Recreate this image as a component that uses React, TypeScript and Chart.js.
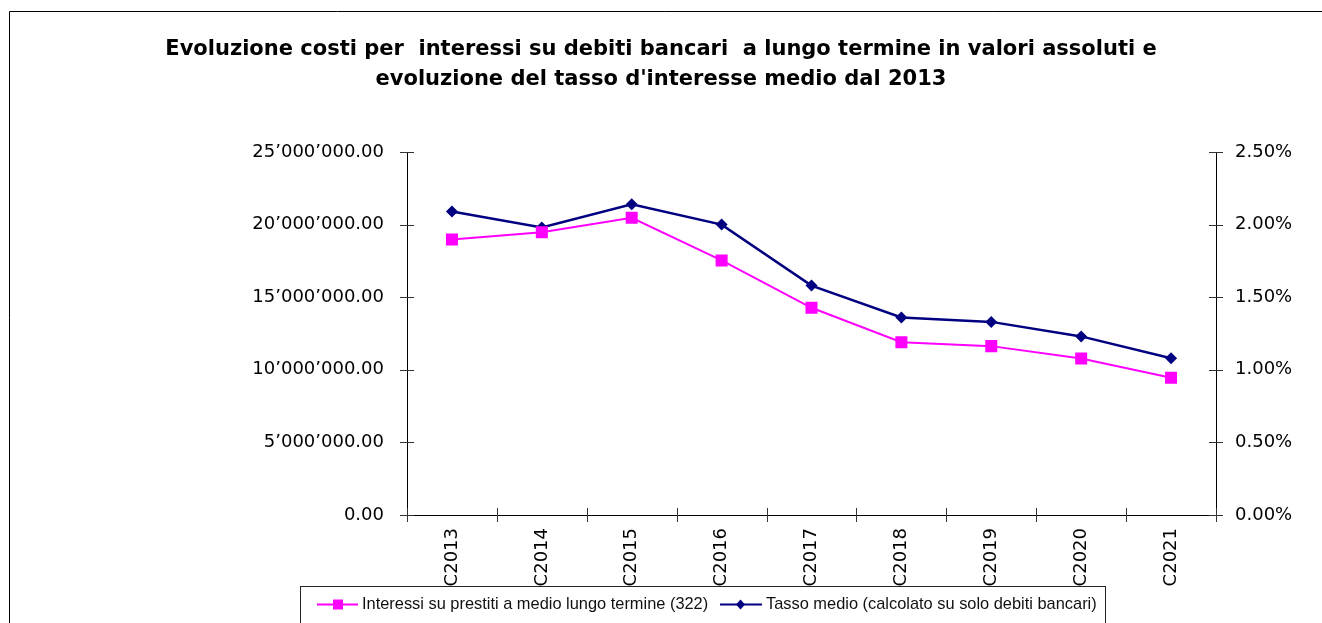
import React, { useEffect, useRef } from "react";
import { Chart, registerables } from "chart.js";

Chart.register(...registerables);

// ---------- DATA ----------
const categories = ["C2013", "C2014", "C2015", "C2016", "C2017", "C2018", "C2019", "C2020", "C2021"];
const interessiValues = [18970000, 19480000, 20470000, 17530000, 14270000, 11900000, 11630000, 10780000, 9450000];
const tassoValues = [2.09, 1.98, 2.14, 2.0, 1.58, 1.36, 1.33, 1.23, 1.08];
const leftAxisMax = 25000000;
const leftAxisStep = 5000000;
const rightAxisMax = 2.5;
const rightAxisStep = 0.5;
const titleLines = [
  "Evoluzione costi per  interessi su debiti bancari  a lungo termine in valori assoluti e",
  "evoluzione del tasso d'interesse medio dal 2013",
];
const seriesLabels = [
  "Interessi su prestiti a medio lungo termine (322)",
  "Tasso medio (calcolato su solo debiti bancari)",
];
const seriesColors = ["#FF00FF", "#000080"];

// ---------- HELPERS ----------
const fmtLeft = (v: number) =>
  Math.round(v).toString().replace(/\B(?=(\d{3})+(?!\d))/g, "\u2019") + ".00";
const fmtRight = (v: number) => v.toFixed(2) + "%";

const framePlugin = {
  id: "frame",
  beforeDraw(chart: any) {
    const ctx = chart.ctx;
    ctx.save();
    ctx.fillStyle = "#ffffff";
    ctx.fillRect(0, 0, chart.width, chart.height);
    ctx.strokeStyle = "#000000";
    ctx.lineWidth = 1;
    ctx.beginPath();
    ctx.moveTo(9.5, chart.height);
    ctx.lineTo(9.5, 11.5);
    ctx.lineTo(chart.width, 11.5);
    ctx.stroke();
    ctx.restore();
  },
};

const crossTicksPlugin = {
  id: "crossTicks",
  afterDraw(chart: any) {
    const ctx = chart.ctx;
    const { left, right, bottom } = chart.chartArea;
    const len = 7;
    ctx.save();
    ctx.strokeStyle = "#333333";
    ctx.lineWidth = 1;
    ctx.beginPath();
    const ys = chart.scales.y;
    ys.ticks.forEach((_t: any, i: number) => {
      const py = Math.round(ys.getPixelForTick(i)) + 0.5;
      ctx.moveTo(Math.round(left) - len, py);
      ctx.lineTo(Math.round(left) + len, py);
    });
    const y1 = chart.scales.y1;
    y1.ticks.forEach((_t: any, i: number) => {
      const py = Math.round(y1.getPixelForTick(i)) + 0.5;
      ctx.moveTo(Math.round(right) - len, py);
      ctx.lineTo(Math.round(right) + len, py);
    });
    const n = categories.length;
    const w = (right - left) / n;
    for (let i = 0; i <= n; i++) {
      const px = Math.round(left + i * w) + 0.5;
      ctx.moveTo(px, Math.round(bottom) - len);
      ctx.lineTo(px, Math.round(bottom) + len);
    }
    ctx.stroke();
    ctx.restore();
  },
};

const legendBoxPlugin = {
  id: "legendBox",
  afterDraw(chart: any) {
    const ctx = chart.ctx;
    ctx.save();
    ctx.strokeStyle = "#222222";
    ctx.lineWidth = 1;
    ctx.strokeRect(300.5, 586.5, 805, 60);
    const cy = 604.5;
    ctx.font = "16.4px 'Liberation Sans', Arial, sans-serif";
    ctx.textBaseline = "middle";
    ctx.fillStyle = "#111111";
    // item 1
    ctx.strokeStyle = seriesColors[0];
    ctx.lineWidth = 2;
    ctx.beginPath();
    ctx.moveTo(317, cy);
    ctx.lineTo(358, cy);
    ctx.stroke();
    ctx.fillStyle = seriesColors[0];
    ctx.fillRect(333, cy - 5, 10, 10);
    ctx.fillStyle = "#111111";
    ctx.fillText(seriesLabels[0], 362, cy);
    // item 2
    ctx.strokeStyle = seriesColors[1];
    ctx.lineWidth = 2;
    ctx.beginPath();
    ctx.moveTo(720, cy);
    ctx.lineTo(762, cy);
    ctx.stroke();
    ctx.fillStyle = seriesColors[1];
    ctx.beginPath();
    ctx.moveTo(740.5, cy - 5);
    ctx.lineTo(745, cy);
    ctx.lineTo(740.5, cy + 5);
    ctx.lineTo(736, cy);
    ctx.closePath();
    ctx.fill();
    ctx.fillStyle = "#111111";
    ctx.fillText(seriesLabels[1], 766, cy);
    ctx.restore();
  },
};

export default function App() {
  const canvasRef = useRef<HTMLCanvasElement | null>(null);

  useEffect(() => {
    if (!canvasRef.current) return;
    const tickFont = { family: "'DejaVu Sans', sans-serif", size: 18 };
    const chart = new Chart(canvasRef.current, {
      type: "line",
      data: {
        labels: categories,
        datasets: [
          {
            label: seriesLabels[0],
            data: interessiValues,
            yAxisID: "y",
            borderColor: seriesColors[0],
            backgroundColor: seriesColors[0],
            borderWidth: 2,
            pointStyle: "rect",
            pointRadius: 8.5,
            pointBorderWidth: 0,
            pointBackgroundColor: seriesColors[0],
            tension: 0,
          },
          {
            label: seriesLabels[1],
            data: tassoValues,
            yAxisID: "y1",
            borderColor: seriesColors[1],
            backgroundColor: seriesColors[1],
            borderWidth: 2.5,
            pointStyle: "rectRot",
            pointRadius: 6,
            pointBorderWidth: 0,
            pointBackgroundColor: seriesColors[1],
            tension: 0,
          },
        ],
      },
      options: {
        animation: false,
        responsive: false,
        devicePixelRatio: 1,
        layout: { padding: 0 },
        plugins: {
          legend: { display: false },
          tooltip: { enabled: false },
          title: {
            display: true,
            text: titleLines,
            color: "#000000",
            font: { family: "'DejaVu Sans', sans-serif", weight: "bold", size: 21, lineHeight: 30 / 21 },
            padding: { top: 34.5, bottom: 57.5 },
          },
        },
        scales: {
          x: {
            type: "category",
            offset: true,
            grid: { display: false, drawTicks: false },
            border: { display: true, color: "#000000", width: 1 },
            ticks: {
              font: tickFont,
              color: "#000000",
              minRotation: 90,
              maxRotation: 90,
              padding: 13,
              autoSkip: false,
            },
            afterFit: (s: any) => {
              s.height = 108;
            },
          },
          y: {
            position: "left",
            min: 0,
            max: leftAxisMax,
            grid: { display: false, drawTicks: false },
            border: { display: true, color: "#000000", width: 1 },
            ticks: {
              stepSize: leftAxisStep,
              font: tickFont,
              color: "#000000",
              padding: 23,
              callback: (v: any) => fmtLeft(Number(v)),
            },
            afterFit: (s: any) => {
              s.width = 407;
            },
          },
          y1: {
            position: "right",
            min: 0,
            max: rightAxisMax,
            grid: { display: false, drawTicks: false },
            border: { display: true, color: "#000000", width: 1 },
            ticks: {
              stepSize: rightAxisStep,
              font: tickFont,
              color: "#000000",
              padding: 19,
              callback: (v: any) => fmtRight(Number(v)),
            },
            afterFit: (s: any) => {
              s.width = 106;
            },
          },
        },
      },
      plugins: [framePlugin, crossTicksPlugin, legendBoxPlugin],
    } as any);
    return () => chart.destroy();
  }, []);

  return (
    <div style={{ position: "fixed", left: 0, top: 0, width: 1322, height: 623, background: "#fff" }}>
      <canvas ref={canvasRef} width={1322} height={623} style={{ width: 1322, height: 623, display: "block" }} />
    </div>
  );
}
